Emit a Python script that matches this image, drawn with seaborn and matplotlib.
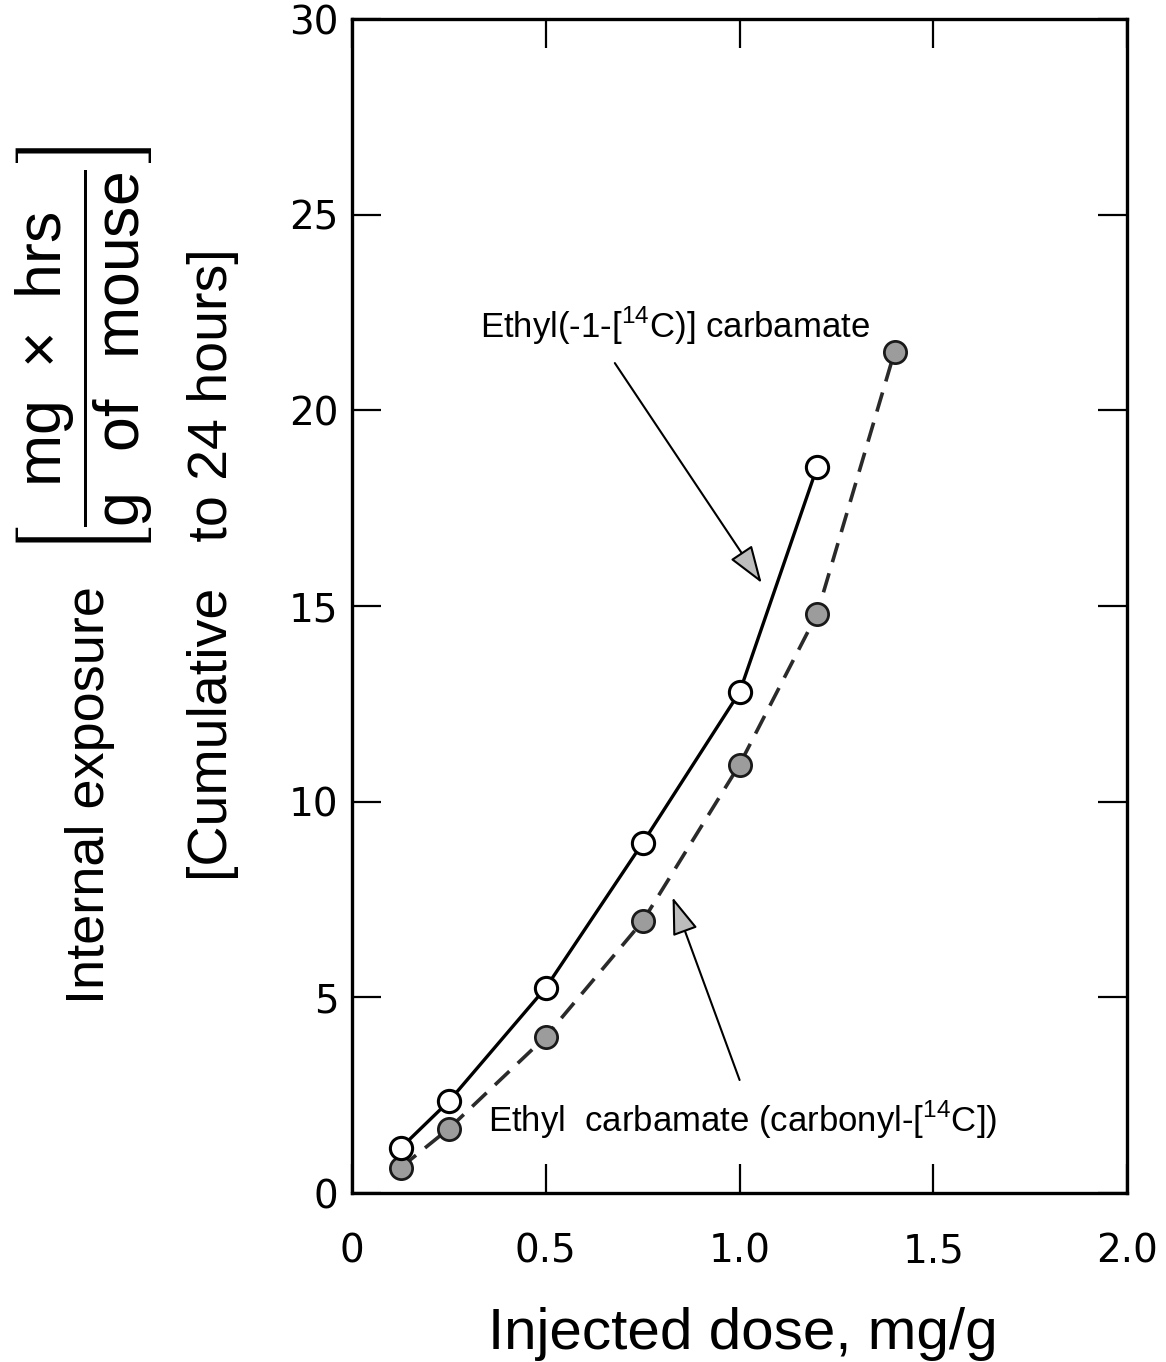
import matplotlib
matplotlib.use("Agg")
import matplotlib.pyplot as plt
import seaborn as sns
from matplotlib import font_manager

# ---- data ----
dose_1 = [0.125, 0.25, 0.5, 0.75, 1.0, 1.2]
exposure_1 = [1.15, 2.35, 5.25, 8.95, 12.8, 18.55]
dose_2 = [0.125, 0.25, 0.5, 0.75, 1.0, 1.2, 1.4]
exposure_2 = [0.65, 1.65, 4.0, 6.95, 10.95, 14.8, 21.5]
x_ticks = [0, 0.5, 1.0, 1.5, 2.0]
x_tick_labels = ["0", "0.5", "1.0", "1.5", "2.0"]
y_ticks = [0, 5, 10, 15, 20, 25, 30]
y_tick_labels = ["0", "5", "10", "15", "20", "25", "30"]
label_1 = r"Ethyl(-1-[$^{\mathsf{14}}$C)] carbamate"
label_2 = r"Ethyl  carbamate (carbonyl-[$^{\mathsf{14}}$C])"
x_title = "Injected dose, mg/g"
y_title = "Internal exposure"
y_unit = r"$\left[\dfrac{\mathrm{mg\ \times\ hrs}}{\mathrm{g\ \ of\ \ mouse}}\right]$"
y_title_2 = "[Cumulative   to 24 hours]"

sns.set_theme(style="ticks")
available = {f.name for f in font_manager.fontManager.ttflist}
narrow = "Liberation Sans Narrow" if "Liberation Sans Narrow" in available else "Liberation Sans"
plt.rcParams["font.family"] = ["DejaVu Sans"]
plt.rcParams["text.color"] = "black"
plt.rcParams["axes.labelcolor"] = "black"
plt.rcParams["mathtext.fontset"] = "custom"
plt.rcParams["mathtext.rm"] = "Liberation Sans"
plt.rcParams["mathtext.sf"] = narrow
plt.rcParams["mathtext.fallback"] = "stixsans"

fig = plt.figure(figsize=(11.66, 13.62), dpi=100)
fig.patch.set_facecolor("white")
ax = fig.add_axes([0.302, 0.124, 0.6646, 0.862])
ax.set_facecolor("white")

sns.lineplot(x=dose_2, y=exposure_2, ax=ax, color="#2a2a2a", lw=2.6,
             linestyle=(0, (5.5, 3.2)), marker="o", markersize=16,
             markerfacecolor="#9c9c9c", markeredgecolor="#1a1a1a",
             markeredgewidth=2.0, zorder=3)
sns.lineplot(x=dose_1, y=exposure_1, ax=ax, color="black", lw=2.4,
             marker="o", markersize=16, markerfacecolor="white",
             markeredgecolor="black", markeredgewidth=2.2, zorder=4)

ax.set_xlim(0, 2.0)
ax.set_ylim(0, 30)
ax.set_xticks(x_ticks)
ax.set_xticklabels(x_tick_labels)
ax.set_yticks(y_ticks)
ax.set_yticklabels(y_tick_labels)
ax.tick_params(direction="in", length=21, width=1.6, top=True, right=True,
               labelsize=28, colors="black")
ax.tick_params(axis="x", pad=28)
ax.tick_params(axis="y", pad=10)
for s in ax.spines.values():
    s.set_linewidth(2.4)
    s.set_color("black")

ax.set_xlabel(x_title, fontsize=42, family="Liberation Sans", va="baseline")
ax.xaxis.set_label_coords(0.5045, -0.133)
ax.set_ylabel(y_title, fontsize=39, family="Liberation Sans", va="center")
ax.yaxis.set_label_coords(-0.338, 0.339)
ax.text(-0.346, 0.718, y_unit, rotation=90, ha="center", va="center",
        transform=ax.transAxes, fontsize=45, family="Liberation Sans")
ax.text(-0.179, 0.535, y_title_2, rotation=90, ha="center", va="center",
        transform=ax.transAxes, fontsize=40, family="Liberation Sans")

ax.text(0.330, 21.85, label_1, fontsize=25, family=narrow, va="baseline", ha="left")
ax.text(0.351, 1.56, label_2, fontsize=25, family=narrow, va="baseline", ha="left")

arrow_kw = dict(arrowstyle="-|>,head_length=1.3,head_width=0.45", mutation_scale=18,
                lw=1.5, ec="black", fc="#bdbdbd", shrinkA=0, shrinkB=0)
ax.annotate("", xy=(1.057, 15.59), xytext=(0.678, 21.21), arrowprops=arrow_kw)
ax.annotate("", xy=(0.827, 7.56), xytext=(1.0, 2.89), arrowprops=arrow_kw)

fig.savefig("out.png", dpi=100, facecolor="white")
